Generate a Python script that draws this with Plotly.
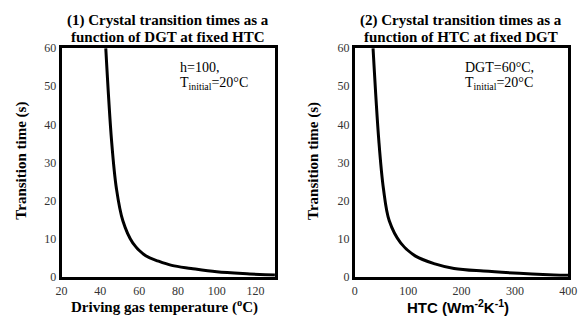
import plotly.graph_objects as go

# Panel 1: transition time vs driving gas temperature (h = 100)
dgt_c = [42.8, 45.8, 48.3, 51.6, 56.7, 63.4, 70.0, 76.8, 86.8, 100.0, 117.0, 125.0, 130.0]
time_dgt = [60.0, 35.6, 23.1, 14.7, 8.9, 5.5, 4.1, 3.0, 2.2, 1.3, 0.75, 0.55, 0.45]

# Panel 2: transition time vs heat transfer coefficient (DGT = 60 C)
htc = [34.1, 45.0, 53.6, 64.5, 85.8, 113.0, 150.0, 186.0, 241.0, 332.0, 373.0, 400.0]
time_htc = [60.0, 35.6, 23.1, 14.7, 8.9, 5.5, 3.4, 2.2, 1.5, 0.75, 0.5, 0.4]

x1_ticks = [20, 40, 60, 80, 100, 120]
x2_ticks = [0, 100, 200, 300, 400]
y_ticks = [0, 10, 20, 30, 40, 50, 60]

W, H = 587, 324
SERIF = "Liberation Serif, Times New Roman, serif"
SANS = "Liberation Sans, Arial, sans-serif"

fig = go.Figure()
fig.add_trace(go.Scatter(x=dgt_c, y=time_dgt, mode="lines", line=dict(color="black", width=3, shape="spline"),
                         xaxis="x", yaxis="y", showlegend=False))
fig.add_trace(go.Scatter(x=htc, y=time_htc, mode="lines", line=dict(color="black", width=3, shape="spline"),
                         xaxis="x2", yaxis="y2", showlegend=False))

def px_x(p):
    return p / W

def px_y(p):
    return 1 - p / H

axis_common = dict(showline=True, mirror=True, linecolor="black", linewidth=3, showgrid=False,
                   zeroline=False, ticks="", tickfont=dict(family=SERIF, size=12, color="#333333"))

fig.update_layout(
    width=W, height=H, margin=dict(l=0, r=0, t=0, b=0),
    paper_bgcolor="white", plot_bgcolor="white",
    font=dict(family=SERIF),
    xaxis=dict(domain=[px_x(57), px_x(276)], range=[20, 130], tickvals=x1_ticks, anchor="y",
               ticklabelstandoff=1, **axis_common),
    yaxis=dict(domain=[px_y(282), px_y(43)], range=[0, 60], tickvals=y_ticks, anchor="x", **axis_common),
    xaxis2=dict(domain=[px_x(358), px_x(577)], range=[0, 400], tickvals=x2_ticks, anchor="y2",
                ticklabelstandoff=1, **axis_common),
    yaxis2=dict(domain=[px_y(282), px_y(43)], range=[0, 60], tickvals=y_ticks, anchor="x2", **axis_common),
)

def note(text, x, y, size=14, family=SERIF, weight="normal", xanchor="center", **kw):
    fig.add_annotation(text=text, x=px_x(x), y=px_y(y), xref="paper", yref="paper", showarrow=False,
                       xanchor=xanchor, yanchor="middle",
                       font=dict(family=family, size=size, color="black", weight=weight), **kw)

# Panel titles (one annotation per line for tight line spacing)
note("(1) Crystal transition times as a", 166, 14, size=15, weight="bold")
note("function of DGT at fixed HTC", 166, 31, size=15, weight="bold")
note("(2) Crystal transition times as a", 467, 14, size=15, weight="bold")
note("function of HTC at fixed DGT", 467, 31, size=15, weight="bold")

# Axis titles
note("Driving gas temperature (<sup>o</sup>C)", 163, 313, size=15, weight="bold")
note("HTC (Wm<sup>-2</sup>K<sup>-1</sup>)", 464, 313, size=15, family=SANS, weight="bold")
note("Transition time (s)", 15, 161, size=15, weight="bold", textangle=-90)
note("Transition time (s)", 315, 161, size=15, weight="bold", textangle=-90)

# Condition labels
note("h=100,", 177, 63, size=14, xanchor="left")
note("T<sub>initial</sub>=20°C", 177, 80, size=14, xanchor="left")
note("DGT=60°C,", 469, 63, size=14, xanchor="left")
note("T<sub>initial</sub>=20°C", 469, 80, size=14, xanchor="left")

fig.write_html("out.html")
